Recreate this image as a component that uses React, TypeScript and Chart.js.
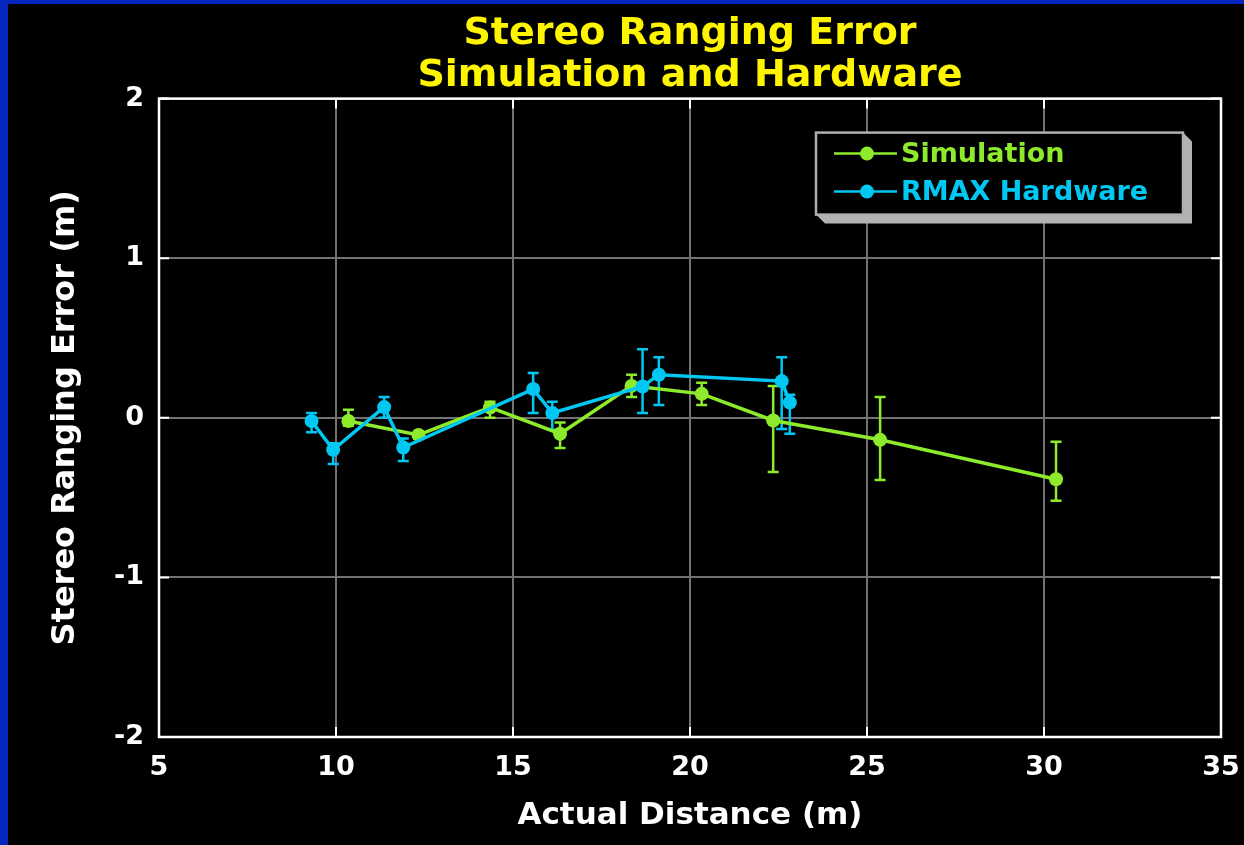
import React, { useEffect, useRef } from 'react';
import { Chart, registerables } from 'chart.js';

Chart.register(...registerables);

const TITLE_LINES = ['Stereo Ranging Error', 'Simulation and Hardware'];
const X_TITLE = 'Actual Distance (m)';
const Y_TITLE = 'Stereo Ranging Error (m)';
const SERIES_NAMES = ['Simulation', 'RMAX Hardware'];

const X_TICKS = [5, 10, 15, 20, 25, 30, 35];
const Y_TICKS = [-2, -1, 0, 1, 2];

const simX = [10.35, 12.33, 14.35, 16.33, 18.35, 20.33, 22.35, 25.37, 30.34];
const simY = [-0.02, -0.107, 0.065, -0.1, 0.2, 0.15, -0.017, -0.138, -0.385];
const simLow = [-0.05, -0.13, 0.0, -0.19, 0.13, 0.08, -0.34, -0.39, -0.52];
const simHigh = [0.05, -0.085, 0.1, -0.03, 0.27, 0.22, 0.2, 0.13, -0.15];

const hwX = [9.31, 9.92, 11.36, 11.9, 15.57, 16.11, 18.66, 19.12, 22.59, 22.82];
const hwY = [-0.02, -0.2, 0.067, -0.186, 0.18, 0.03, 0.196, 0.27, 0.23, 0.096];
const hwLow = [-0.09, -0.29, 0.0, -0.27, 0.03, -0.075, 0.03, 0.08, -0.07, -0.1];
const hwHigh = [0.03, -0.16, 0.13, -0.13, 0.28, 0.1, 0.43, 0.38, 0.38, 0.144];

const GREEN = '#8DEB2B';
const BLUE = '#00C8F2';
const FONT = 'DejaVu Sans';

const errorBarPlugin = {
  id: 'errorBars',
  beforeDatasetsDraw(chart: any) {
    const { ctx, scales } = chart;
    const xs = scales.x;
    const ys = scales.y;
    const metas = chart.getSortedVisibleDatasetMetas().slice().reverse();
    metas.forEach((meta: any) => {
      const ds: any = chart.data.datasets[meta.index];
      ctx.save();
      ctx.strokeStyle = ds.borderColor;
      ctx.lineWidth = 2.5;
      ds.data.forEach((p: any, j: number) => {
        const px = xs.getPixelForValue(p.x);
        const y1 = ys.getPixelForValue(ds.errLow[j]);
        const y2 = ys.getPixelForValue(ds.errHigh[j]);
        ctx.beginPath();
        ctx.moveTo(px, y1);
        ctx.lineTo(px, y2);
        ctx.moveTo(px - 5.5, y1);
        ctx.lineTo(px + 5.5, y1);
        ctx.moveTo(px - 5.5, y2);
        ctx.lineTo(px + 5.5, y2);
        ctx.stroke();
      });
      ctx.restore();
    });
  },
};

const boxPlugin = {
  id: 'axesBox',
  beforeDatasetsDraw(chart: any) {
    const { ctx, chartArea: a, scales } = chart;
    ctx.save();
    ctx.strokeStyle = '#FFFFFF';
    ctx.lineWidth = 2;
    ctx.beginPath();
    scales.x.ticks.forEach((t: any) => {
      const px = scales.x.getPixelForValue(t.value);
      ctx.moveTo(px, a.bottom);
      ctx.lineTo(px, a.bottom - 10);
      ctx.moveTo(px, a.top);
      ctx.lineTo(px, a.top + 10);
    });
    scales.y.ticks.forEach((t: any) => {
      const py = scales.y.getPixelForValue(t.value);
      ctx.moveTo(a.left, py);
      ctx.lineTo(a.left + 10, py);
      ctx.moveTo(a.right, py);
      ctx.lineTo(a.right - 10, py);
    });
    ctx.stroke();
    ctx.lineWidth = 2.5;
    ctx.strokeRect(a.left, a.top, a.right - a.left, a.bottom - a.top);
    ctx.restore();
  },
};

const legendPlugin = {
  id: 'boxLegend',
  afterDraw(chart: any) {
    const { ctx, chartArea: a } = chart;
    const R = a.right - 38;
    const T = a.top + 34;
    const L = R - 367;
    const B = T + 82;
    const d = 9;
    ctx.save();
    ctx.fillStyle = '#B3B3B3';
    ctx.beginPath();
    ctx.moveTo(R, T);
    ctx.lineTo(R + d, T + d);
    ctx.lineTo(R + d, B + d);
    ctx.lineTo(L + d, B + d);
    ctx.lineTo(L, B);
    ctx.closePath();
    ctx.fill();
    ctx.fillStyle = '#000000';
    ctx.fillRect(L, T, R - L, B - T);
    ctx.strokeStyle = '#AFAFAF';
    ctx.lineWidth = 2.5;
    ctx.strokeRect(L, T, R - L, B - T);
    const rows = [T + 21, T + 59];
    chart.data.datasets.forEach((ds: any, i: number) => {
      const yy = rows[i];
      ctx.strokeStyle = ds.borderColor;
      ctx.lineWidth = 2.5;
      ctx.beginPath();
      ctx.moveTo(L + 18, yy);
      ctx.lineTo(L + 81, yy);
      ctx.stroke();
      ctx.fillStyle = ds.borderColor;
      ctx.beginPath();
      ctx.arc(L + 51, yy, 7, 0, Math.PI * 2);
      ctx.fill();
      ctx.font = `bold 27px "${FONT}"`;
      ctx.textBaseline = 'middle';
      ctx.textAlign = 'left';
      ctx.fillText(ds.label, L + 85, yy + 1);
    });
    ctx.restore();
  },
};

export default function App() {
  const ref = useRef<HTMLCanvasElement | null>(null);

  useEffect(() => {
    if (!ref.current) return;
    const chart = new Chart(ref.current, {
      type: 'line',
      data: {
        datasets: [
          {
            label: SERIES_NAMES[0],
            data: simX.map((x, i) => ({ x, y: simY[i] })),
            errLow: simLow,
            errHigh: simHigh,
            borderColor: GREEN,
            backgroundColor: GREEN,
            borderWidth: 3.5,
            pointRadius: 7,
            pointBorderWidth: 0,
            pointBackgroundColor: GREEN,
            tension: 0,
            order: 2,
          } as any,
          {
            label: SERIES_NAMES[1],
            data: hwX.map((x, i) => ({ x, y: hwY[i] })),
            errLow: hwLow,
            errHigh: hwHigh,
            borderColor: BLUE,
            backgroundColor: BLUE,
            borderWidth: 3.5,
            pointRadius: 7,
            pointBorderWidth: 0,
            pointBackgroundColor: BLUE,
            tension: 0,
            order: 1,
          } as any,
        ],
      },
      options: {
        responsive: false,
        animation: false,
        devicePixelRatio: 1,
        layout: { padding: { left: 0, right: 23, top: 0, bottom: 0 } },
        plugins: {
          legend: { display: false },
          tooltip: { enabled: false },
          title: {
            display: true,
            text: TITLE_LINES,
            fullSize: false,
            color: '#FFF500',
            font: { family: FONT, size: 38, weight: 'bold', lineHeight: 1.1 },
            padding: { top: 9, bottom: 2 },
          },
        },
        scales: {
          x: {
            type: 'linear',
            min: 5,
            max: 35,
            afterBuildTicks: (s: any) => {
              s.ticks = X_TICKS.map((v) => ({ value: v }));
            },
            afterFit: (s: any) => {
              s.height = 108;
              s.paddingLeft = 0;
              s.paddingRight = 0;
            },
            grid: { color: '#727272', lineWidth: 2, drawTicks: false },
            border: { display: false },
            ticks: {
              color: '#FFFFFF',
              padding: 15,
              maxRotation: 0,
              autoSkip: false,
              font: { family: FONT, size: 27, weight: 'bold' },
            },
            title: {
              display: true,
              text: X_TITLE,
              color: '#FFFFFF',
              font: { family: FONT, size: 31, weight: 'bold', lineHeight: 1.2 },
              padding: { top: 0, bottom: 10 },
            },
          },
          y: {
            type: 'linear',
            min: -2,
            max: 2,
            afterBuildTicks: (s: any) => {
              s.ticks = Y_TICKS.map((v) => ({ value: v }));
            },
            afterFit: (s: any) => {
              s.width = 151;
              s.paddingTop = 0;
              s.paddingBottom = 0;
            },
            grid: { color: '#727272', lineWidth: 2, drawTicks: false },
            border: { display: false },
            ticks: {
              color: '#FFFFFF',
              padding: 15,
              autoSkip: false,
              font: { family: FONT, size: 27, weight: 'bold' },
            },
            title: {
              display: true,
              text: Y_TITLE,
              color: '#FFFFFF',
              font: { family: FONT, size: 32, weight: 'bold', lineHeight: 1.2 },
              padding: { top: 38, bottom: 0 },
            },
          },
        },
      } as any,
      plugins: [errorBarPlugin, boxPlugin, legendPlugin],
    });
    return () => chart.destroy();
  }, []);

  return (
    <div
      style={{
        position: 'fixed',
        left: 0,
        top: 0,
        width: 1244,
        height: 845,
        background: '#0726C0',
        overflow: 'hidden',
      }}
    >
      <div
        style={{
          position: 'absolute',
          left: 8,
          top: 4,
          width: 1236,
          height: 841,
          background: '#000000',
        }}
      >
        <canvas
          ref={ref}
          width={1236}
          height={841}
          style={{ display: 'block', width: 1236, height: 841 }}
        />
      </div>
    </div>
  );
}
